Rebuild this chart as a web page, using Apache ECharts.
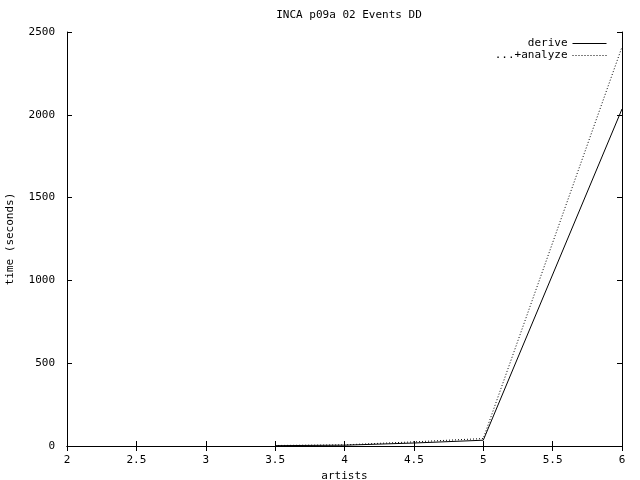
<!DOCTYPE html>
<html><head><meta charset="utf-8">
<script src="https://cdn.jsdelivr.net/npm/echarts@6/dist/echarts.min.js"></script>
<style>html,body{margin:0;padding:0;background:#fff}#c{width:640px;height:480px}</style>
</head><body><div id="c"></div>
<script>
const artists = [3.5, 4, 4.5, 5, 6];
const derive = [2, 5, 18, 35, 2035];
const analyze = [3, 7, 25, 45, 2410];
const xTicks = [2, 2.5, 3, 3.5, 4, 4.5, 5, 5.5, 6];
const yTicks = [0, 500, 1000, 1500, 2000, 2500];

const FONT = 'DejaVu Sans Mono';
const chart = echarts.init(document.getElementById('c'), null, {renderer: 'canvas'});
const axisLine = {show: true, lineStyle: {color: '#000', width: 1}};
const tick = {show: true, inside: true, length: 5, lineStyle: {color: '#000'}};
chart.setOption({
  animation: false,
  backgroundColor: '#fff',
  title: {text: 'INCA p09a 02 Events DD', left: 344, top: 5, textAlign: 'center',
    textStyle: {fontFamily: FONT, fontSize: 11, fontWeight: 'normal', color: '#000'}},
  legend: {
    orient: 'vertical', right: 33, top: 38, align: 'right', itemGap: 1,
    itemWidth: 34, itemHeight: 11, padding: 0,
    itemStyle: {color: 'transparent', borderWidth: 0, opacity: 0},
    lineStyle: {width: 1},
    textStyle: {fontFamily: FONT, fontSize: 11, color: '#000', lineHeight: 11},
    data: [{name: 'derive'}, {name: '...+analyze'}]
  },
  grid: {left: 67, right: 18, top: 32, bottom: 34, containLabel: false, outerBoundsMode: 'none'},
  xAxis: [{
    type: 'value', min: 2, max: 6, interval: 0.5,
    name: 'artists', nameLocation: 'middle', nameGap: 21,
    nameTextStyle: {fontFamily: FONT, fontSize: 11, color: '#000'},
    axisLine, axisTick: tick, splitLine: {show: false},
    axisLabel: {fontFamily: FONT, fontSize: 11, color: '#000', margin: 9,
      formatter: v => xTicks.includes(v) ? String(v) : ''}
  }, {
    type: 'value', min: 2, max: 6, interval: 0.5, position: 'top',
    axisLine, axisTick: tick, splitLine: {show: false}, axisLabel: {show: false}
  }],
  yAxis: [{
    type: 'value', min: 0, max: 2500, interval: 500,
    name: 'time (seconds)', nameLocation: 'middle', nameGap: 51,
    nameTextStyle: {fontFamily: FONT, fontSize: 11, color: '#000'},
    axisLine, axisTick: tick, splitLine: {show: false},
    axisLabel: {fontFamily: FONT, fontSize: 11, color: '#000', margin: 12,
      formatter: v => yTicks.includes(v) ? String(v) : ''}
  }, {
    type: 'value', min: 0, max: 2500, interval: 500, position: 'right',
    axisLine, axisTick: tick, splitLine: {show: false}, axisLabel: {show: false}
  }],
  series: [{
    name: 'derive', type: 'line', symbol: 'none', xAxisIndex: 0, yAxisIndex: 0,
    lineStyle: {color: '#000', width: 1, type: 'solid'}, itemStyle: {color: '#000'},
    data: artists.map((a, i) => [a, derive[i]])
  }, {
    name: '...+analyze', type: 'line', symbol: 'none', xAxisIndex: 0, yAxisIndex: 0,
    lineStyle: {color: '#000', width: 1, type: [1, 2]}, itemStyle: {color: '#000'},
    data: artists.map((a, i) => [a, analyze[i]])
  }]
});
</script></body></html>
